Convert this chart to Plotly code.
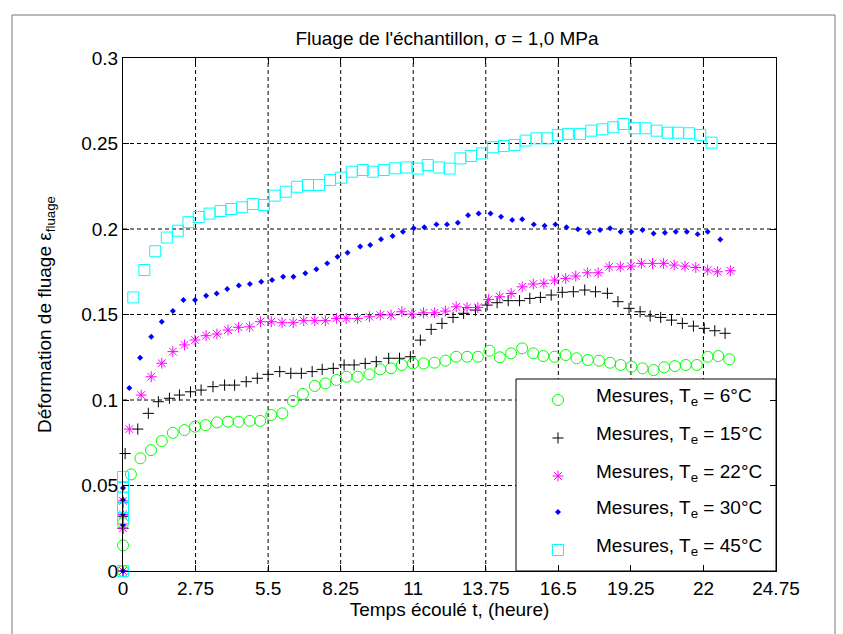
import plotly.graph_objects as go

# Creep measurements: elapsed time (h) and creep strain for each test temperature
t_6 = [0, 0, 0, 0.30, 0.66, 1.06, 1.47, 1.89, 2.33, 2.73, 3.13, 3.56, 3.98, 4.38, 4.80, 5.20,
       5.62, 6.04, 6.44, 6.82, 7.27, 7.67, 8.09, 8.47, 8.89, 9.34, 9.75, 10.16, 10.57, 10.99,
       11.39, 11.81, 12.22, 12.63, 13.04, 13.45, 13.89, 14.28, 14.71, 15.13, 15.55, 15.93,
       16.36, 16.78, 17.19, 17.62, 18.04, 18.46, 18.86, 19.27, 19.69, 20.11, 20.51, 20.92,
       21.33, 21.75, 22.16, 22.56, 22.98]
eps_6 = [0, 0.015, 0.028, 0.0565, 0.0659, 0.0707, 0.076, 0.0808, 0.0824, 0.0844, 0.0853,
         0.0869, 0.0873, 0.0873, 0.0878, 0.0878, 0.0912, 0.0922, 0.0994, 0.1035, 0.1082,
         0.1097, 0.1117, 0.1136, 0.1136, 0.115, 0.1179, 0.1185, 0.1205, 0.1214, 0.1214,
         0.1218, 0.123, 0.1253, 0.1253, 0.1253, 0.1288, 0.125, 0.1273, 0.1302, 0.1273, 0.1257,
         0.1253, 0.1263, 0.1244, 0.1234, 0.123, 0.1218, 0.1205, 0.1195, 0.1185, 0.1175,
         0.1191, 0.1198, 0.1205, 0.1205, 0.1253, 0.1257, 0.1238]

t_15 = [0, 0, 0, 0, 0.08, 0.56, 0.96, 1.34, 1.76, 2.14, 2.56, 2.96, 3.41, 3.85, 4.23, 4.67,
        5.09, 5.50, 5.94, 6.36, 6.76, 7.17, 7.55, 7.97, 8.38, 8.76, 9.18, 9.60, 10.07, 10.48,
        10.89, 11.27, 11.68, 12.09, 12.51, 12.91, 13.36, 13.80, 14.18, 14.60, 15.03, 15.42,
        15.82, 16.23, 16.65, 17.07, 17.50, 17.91, 18.36, 18.76, 19.18, 19.60, 19.98, 20.38,
        20.79, 21.20, 21.62, 22.03, 22.43, 22.82]
eps_15 = [0, 0.025, 0.032, 0.04, 0.0687, 0.083, 0.0922, 0.099, 0.101, 0.1029, 0.1048, 0.1058,
          0.1078, 0.1087, 0.1087, 0.1107, 0.1127, 0.115, 0.1166, 0.1156, 0.1156, 0.1166,
          0.1179, 0.1185, 0.1205, 0.1205, 0.1214, 0.1224, 0.1244, 0.1244, 0.1253, 0.135,
          0.1413, 0.1448, 0.1483, 0.1507, 0.1526, 0.1555, 0.1569, 0.1581, 0.1581, 0.1594, 0.16,
          0.1614, 0.163, 0.1633, 0.1643, 0.1633, 0.1624, 0.1575, 0.1536, 0.1516, 0.1491,
          0.1483, 0.1467, 0.1448, 0.1432, 0.1419, 0.1405, 0.139]

t_22 = [0, 0, 0, 0, 0.24, 0.69, 1.07, 1.47, 1.89, 2.33, 2.73, 3.15, 3.56, 3.98, 4.38, 4.80,
        5.21, 5.62, 6.03, 6.45, 6.85, 7.27, 7.67, 8.09, 8.46, 8.89, 9.34, 9.75, 10.16, 10.57,
        10.95, 11.39, 11.81, 12.22, 12.63, 13.04, 13.45, 13.86, 14.28, 14.71, 15.13, 15.55,
        15.95, 16.36, 16.78, 17.16, 17.60, 18.01, 18.43, 18.85, 19.25, 19.65, 20.07, 20.49,
        20.89, 21.30, 21.71, 22.16, 22.53, 23.02]
eps_22 = [0, 0.025, 0.033, 0.041, 0.083, 0.1029, 0.1136, 0.1215, 0.1283, 0.1322, 0.1351,
          0.1376, 0.1386, 0.1409, 0.1425, 0.1428, 0.1458, 0.1458, 0.1452, 0.1452, 0.1464,
          0.1464, 0.1464, 0.1477, 0.1477, 0.1477, 0.1487, 0.1497, 0.1497, 0.1516, 0.1502,
          0.151, 0.151, 0.152, 0.1545, 0.1541, 0.1541, 0.1588, 0.1604, 0.1623, 0.1662, 0.1678,
          0.1682, 0.1701, 0.1711, 0.1725, 0.1744, 0.1744, 0.1779, 0.1779, 0.1783, 0.1799,
          0.1799, 0.1799, 0.1789, 0.1783, 0.1775, 0.176, 0.175, 0.1756]

t_30 = [0, 0, 0, 0, 0, 0.24, 0.65, 1.07, 1.47, 1.89, 2.29, 2.73, 3.15, 3.55, 3.95, 4.39, 4.81,
        5.24, 5.65, 6.07, 6.46, 6.91, 7.33, 7.74, 8.13, 8.51, 8.99, 9.37, 9.78, 10.22, 10.61,
        11.02, 11.42, 11.88, 12.28, 12.69, 13.08, 13.48, 13.93, 14.33, 14.75, 15.13, 15.57,
        15.98, 16.39, 16.81, 17.24, 17.66, 18.08, 18.46, 18.86, 19.27, 19.69, 20.11, 20.54,
        20.95, 21.37, 21.78, 22.16, 22.64]
eps_30 = [0, 0.027, 0.033, 0.0415, 0.0485, 0.107, 0.1247, 0.137, 0.1458, 0.152, 0.1585,
          0.1585, 0.161, 0.1623, 0.1649, 0.1669, 0.1678, 0.1692, 0.1702, 0.1721, 0.1721,
          0.1741, 0.1764, 0.1799, 0.1838, 0.1861, 0.1897, 0.1906, 0.194, 0.1959, 0.1984,
          0.2004, 0.201, 0.2027, 0.2027, 0.2037, 0.208, 0.2091, 0.2091, 0.2072, 0.2053,
          0.2057, 0.2027, 0.2019, 0.2027, 0.201, 0.1998, 0.198, 0.1994, 0.2004, 0.1984,
          0.1984, 0.1994, 0.1974, 0.1978, 0.1984, 0.1984, 0.197, 0.1984, 0.1939]

t_45 = [0, 0, 0, 0, 0, 0, 0.39, 0.81, 1.22, 1.66, 2.08, 2.48, 2.87, 3.28, 3.70, 4.10, 4.51,
        4.92, 5.34, 5.75, 6.17, 6.60, 7.01, 7.43, 7.85, 8.26, 8.67, 9.09, 9.47, 9.88, 10.32,
        10.74, 11.17, 11.55, 11.97, 12.38, 12.79, 13.19, 13.61, 14.03, 14.43, 14.84, 15.26,
        15.67, 16.08, 16.48, 16.86, 17.32, 17.75, 18.17, 18.58, 18.96, 19.39, 19.81, 20.23,
        20.64, 21.04, 21.46, 21.88, 22.31]
eps_45 = [0, 0.031, 0.037, 0.043, 0.049, 0.055, 0.160, 0.176, 0.187, 0.195, 0.199, 0.204,
          0.207, 0.209, 0.2105, 0.2117, 0.2127, 0.2146, 0.214, 0.2195, 0.2218, 0.2247,
          0.2257, 0.2257, 0.2286, 0.230, 0.2335, 0.2345, 0.2335, 0.2345, 0.2355, 0.236,
          0.2353, 0.2374, 0.236, 0.2353, 0.2413, 0.2427, 0.2442, 0.2478, 0.2485, 0.2491,
          0.2517, 0.253, 0.253, 0.255, 0.2556, 0.2556, 0.2575, 0.2583, 0.2595, 0.2614,
          0.2589, 0.2589, 0.2575, 0.2563, 0.2563, 0.256, 0.255, 0.2505]

labels = ["Mesures, T<sub>e</sub> = 6°C", "Mesures, T<sub>e</sub> = 15°C",
          "Mesures, T<sub>e</sub> = 22°C", "Mesures, T<sub>e</sub> = 30°C",
          "Mesures, T<sub>e</sub> = 45°C"]

x_ticks = [0, 2.75, 5.5, 8.25, 11, 13.75, 16.5, 19.25, 22, 24.75]
x_ticktext = ["0", "2.75", "5.5", "8.25", "11", "13.75", "16.5", "19.25", "22", "24.75"]
y_ticks = [0, 0.05, 0.1, 0.15, 0.2, 0.25, 0.3]
y_ticktext = ["0", "0.05", "0.1", "0.15", "0.2", "0.25", "0.3"]

# Page geometry (pixels)
W, H = 843, 634
ML, MR, MT, MB = 123, 67, 58, 63
PW, PH = W - ML - MR, H - MT - MB


def px_x(px):
    return (px - ML) / PW


def px_y(py):
    return (H - MB - py) / PH


FONT = "Liberation Sans, Arial, Helvetica, sans-serif"
FS = 19

markers = [
    dict(symbol="circle-open", size=11, color="#00FF00", line=dict(width=1, color="#00FF00")),
    dict(symbol="cross-thin-open", size=8, color="#000000", line=dict(width=1, color="#000000")),
    dict(symbol="asterisk-open", size=9, color="#FF00FF", line=dict(width=1, color="#FF00FF")),
    dict(symbol="diamond", size=4.6, color="#0000FF", line=dict(width=0)),
    dict(symbol="square-open", size=11, color="#00FFFF", line=dict(width=1, color="#00FFFF")),
]
series = [(t_6, eps_6), (t_15, eps_15), (t_22, eps_22), (t_30, eps_30), (t_45, eps_45)]

fig = go.Figure()

# Dashed grid drawn as shapes so the legend box can mask it
grid_line = dict(color="black", width=1, dash="4px,3px")
for xv in x_ticks[1:-1]:
    fig.add_shape(type="line", xref="x", yref="paper", x0=xv, x1=xv, y0=0, y1=1,
                  line=grid_line, layer="below")
for yv in y_ticks[1:-1]:
    fig.add_shape(type="line", xref="paper", yref="y", x0=0, x1=1, y0=yv, y1=yv,
                  line=grid_line, layer="below")

for (tt, ee), mk, lab in zip(series, markers, labels):
    fig.add_trace(go.Scatter(x=tt, y=ee, mode="markers", marker=mk, name=lab,
                             showlegend=False, cliponaxis=False, hoverinfo="x+y"))

# Boxed legend inside the lower-right corner of the axes
leg_left, leg_right, leg_top, leg_bottom = 516, 776, 379, 571
row_y = [400, 438, 476, 512, 550]
marker_x, text_x = 558, 594
fig.add_shape(type="rect", xref="paper", yref="paper",
              x0=px_x(leg_left), x1=px_x(leg_right), y0=px_y(leg_bottom), y1=px_y(leg_top),
              fillcolor="white", line=dict(color="black", width=1), layer="below")
for mk, lab, ry in zip(markers, labels, row_y):
    fig.add_trace(go.Scatter(x=[px_x(marker_x)], y=[px_y(ry)], mode="markers", marker=mk,
                             xaxis="x2", yaxis="y2", showlegend=False, hoverinfo="skip",
                             cliponaxis=False))
    fig.add_annotation(x=px_x(text_x), y=px_y(ry - 3), xref="paper", yref="paper",
                       text=lab, showarrow=False, xanchor="left", yanchor="middle",
                       font=dict(family=FONT, size=FS, color="black"))

# Figure frame
fig.add_shape(type="rect", xref="paper", yref="paper",
              x0=px_x(12), x1=px_x(835), y0=px_y(645), y1=px_y(15),
              line=dict(color="#777777", width=1), fillcolor="rgba(0,0,0,0)", layer="above")

axis_common = dict(showline=True, linecolor="black", linewidth=1, mirror="ticks",
                   ticks="inside", ticklen=6, tickcolor="black", tickwidth=1,
                   showgrid=False, zeroline=False,
                   tickfont=dict(family=FONT, size=FS, color="black"))

fig.update_layout(
    width=W, height=H,
    margin=dict(l=ML, r=MR, t=MT, b=MB),
    paper_bgcolor="white", plot_bgcolor="white",
    font=dict(family=FONT, size=FS, color="black"),
    title=dict(text="Fluage de l'échantillon, σ = 1,0 MPa", x=px_x(447), xref="paper",
               xanchor="center", y=1 - 38 / H, yref="container", yanchor="middle",
               font=dict(family=FONT, size=FS, color="black")),
    xaxis=dict(range=[0, 24.75], tickvals=x_ticks, ticktext=x_ticktext,
               title=dict(text="Temps écoulé t, (heure)", standoff=4,
                          font=dict(family=FONT, size=FS)),
               **axis_common),
    yaxis=dict(range=[0, 0.3], tickvals=y_ticks, ticktext=y_ticktext,
               title=dict(text="Déformation de fluage ε<sub>fluage</sub>", standoff=24,
                          font=dict(family=FONT, size=FS)),
               **axis_common),
    xaxis2=dict(overlaying="x", range=[0, 1], visible=False, fixedrange=True),
    yaxis2=dict(overlaying="y", range=[0, 1], visible=False, fixedrange=True),
    showlegend=False,
)

fig.write_html("out.html")
